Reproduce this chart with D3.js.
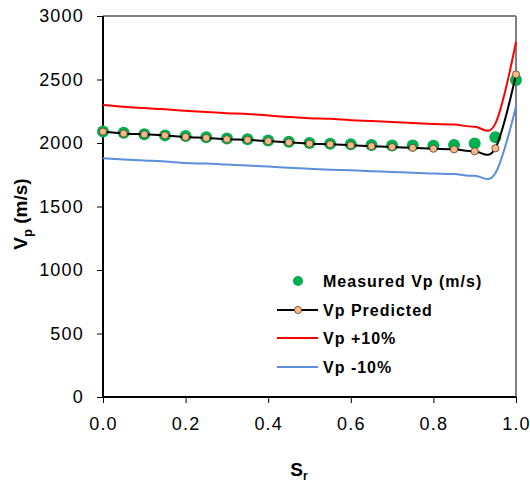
<!DOCTYPE html>
<html><head><meta charset="utf-8">
<script src="https://cdn.jsdelivr.net/npm/d3@7"></script>
<style>body{margin:0;background:#fff}svg{display:block}text{font-family:Arial,"Liberation Sans",sans-serif}</style>
</head><body><svg id="c" width="530" height="483"></svg>
<script>
const sr = [0,0.05,0.1,0.15,0.2,0.25,0.3,0.35,0.4,0.45,0.5,0.55,0.6,0.65,0.7,0.75,0.8,0.85,0.9,0.95,1.0];
const measured = [2090,2080,2068,2060,2055,2045,2035,2030,2020,2010,2000,1995,1990,1985,1980,1980,1978,1984,1997,2045,2496];
const predicted = [2090,2075,2068,2060,2048,2040,2030,2025,2015,2005,1995,1990,1982,1975,1968,1962,1955,1950,1935,1958,2540];
const plus10 = [2299,2285,2275,2265,2253,2245,2235,2228,2217,2205,2195,2190,2180,2173,2165,2158,2150,2145,2128,2153,2795];
const minus10 = [1880,1870,1862,1855,1842,1838,1830,1822,1815,1805,1797,1790,1785,1778,1772,1765,1760,1755,1742,1762,2288];
const xTicks = [0,0.2,0.4,0.6,0.8,1.0];
const yTicks = [0,500,1000,1500,2000,2500,3000];
const legendLabels = ["Measured Vp (m/s)","Vp Predicted","Vp +10%","Vp -10%"];

const svg = d3.select("#c");
const L=103,R=516,T=16,B=397;
const x = d3.scaleLinear().domain([0,1]).range([L,R]);
const y = d3.scaleLinear().domain([0,3000]).range([B,T]);

svg.append("line").attr("x1",L).attr("x2",R).attr("y1",T).attr("y2",T).attr("stroke","#808080").attr("stroke-width",2);
svg.append("line").attr("x1",R).attr("x2",R).attr("y1",T).attr("y2",B).attr("stroke","#808080").attr("stroke-width",2);

const yAxis = svg.append("g").attr("transform",`translate(${L},0)`)
  .call(d3.axisLeft(y).tickValues(yTicks).tickFormat(d3.format("d")).tickSize(6).tickPadding(13));
const xAxis = svg.append("g").attr("transform",`translate(0,${B})`)
  .call(d3.axisBottom(x).tickValues(xTicks).tickFormat(d3.format(".1f")).tickSize(6).tickPadding(14));
[yAxis,xAxis].forEach(g=>{
  g.select(".domain").attr("stroke","#000").attr("stroke-width",2);
  g.selectAll(".tick line").attr("stroke","#000").attr("stroke-width",1);
  g.selectAll("text").attr("font-size",18).attr("letter-spacing",1.2).attr("fill","#000").attr("font-family","Arial, 'Liberation Sans', sans-serif");
});
xAxis.selectAll(".domain").attr("d",`M${L},0H${R}`);
yAxis.selectAll(".domain").attr("d",`M0,${B}V${T}`);

const pts = arr => sr.map((s,i)=>[s,arr[i]]);
const line = d3.line().x(d=>x(d[0])).y(d=>y(d[1])).curve(d3.curveCatmullRom.alpha(0));

svg.append("path").attr("d",line(pts(plus10))).attr("fill","none").attr("stroke","#FF0000").attr("stroke-width",2);
svg.append("path").attr("d",line(pts(minus10))).attr("fill","none").attr("stroke","#5B8EDB").attr("stroke-width",2);

svg.append("g").selectAll("circle").data(pts(measured)).join("circle")
  .attr("cx",d=>x(d[0])).attr("cy",d=>y(d[1])).attr("r",6).attr("fill","#00B050");

svg.append("path").attr("d",line(pts(predicted))).attr("fill","none").attr("stroke","#000").attr("stroke-width",2);
svg.append("g").selectAll("circle").data(pts(predicted)).join("circle")
  .attr("cx",d=>x(d[0])).attr("cy",d=>y(d[1])).attr("r",3.6).attr("fill","#F7B98A").attr("stroke","#5a3a20").attr("stroke-width",0.8);

const lg = svg.append("g");
const ly = [281,310,338,367];
lg.append("circle").attr("cx",298).attr("cy",ly[0]).attr("r",5).attr("fill","#00B050");
lg.append("line").attr("x1",277).attr("x2",318).attr("y1",ly[1]).attr("y2",ly[1]).attr("stroke","#000").attr("stroke-width",2);
lg.append("circle").attr("cx",298).attr("cy",ly[1]).attr("r",3.6).attr("fill","#F7B98A").attr("stroke","#5a3a20").attr("stroke-width",0.8);
lg.append("line").attr("x1",277).attr("x2",318).attr("y1",ly[2]).attr("y2",ly[2]).attr("stroke","#FF0000").attr("stroke-width",2);
lg.append("line").attr("x1",277).attr("x2",318).attr("y1",ly[3]).attr("y2",ly[3]).attr("stroke","#5B8EDB").attr("stroke-width",2);
legendLabels.forEach((t,i)=>{
  lg.append("text").attr("x",323).attr("y",ly[i]+6).attr("font-size",16).attr("font-weight","bold").attr("letter-spacing",1).text(t);
});

const xt = svg.append("text").attr("x",299).attr("y",476).attr("text-anchor","middle").attr("font-size",19).attr("font-weight","bold");
xt.append("tspan").text("S");
xt.append("tspan").attr("font-size",12).attr("dy",4).text("r");
const yt = svg.append("text").attr("transform","translate(27,214) rotate(-90)").attr("text-anchor","middle").attr("font-size",19).attr("font-weight","bold");
yt.append("tspan").text("V");
yt.append("tspan").attr("font-size",13).attr("dy",5).text("p");
yt.append("tspan").attr("dy",-5).text(" (m/s)");
</script></body></html>
